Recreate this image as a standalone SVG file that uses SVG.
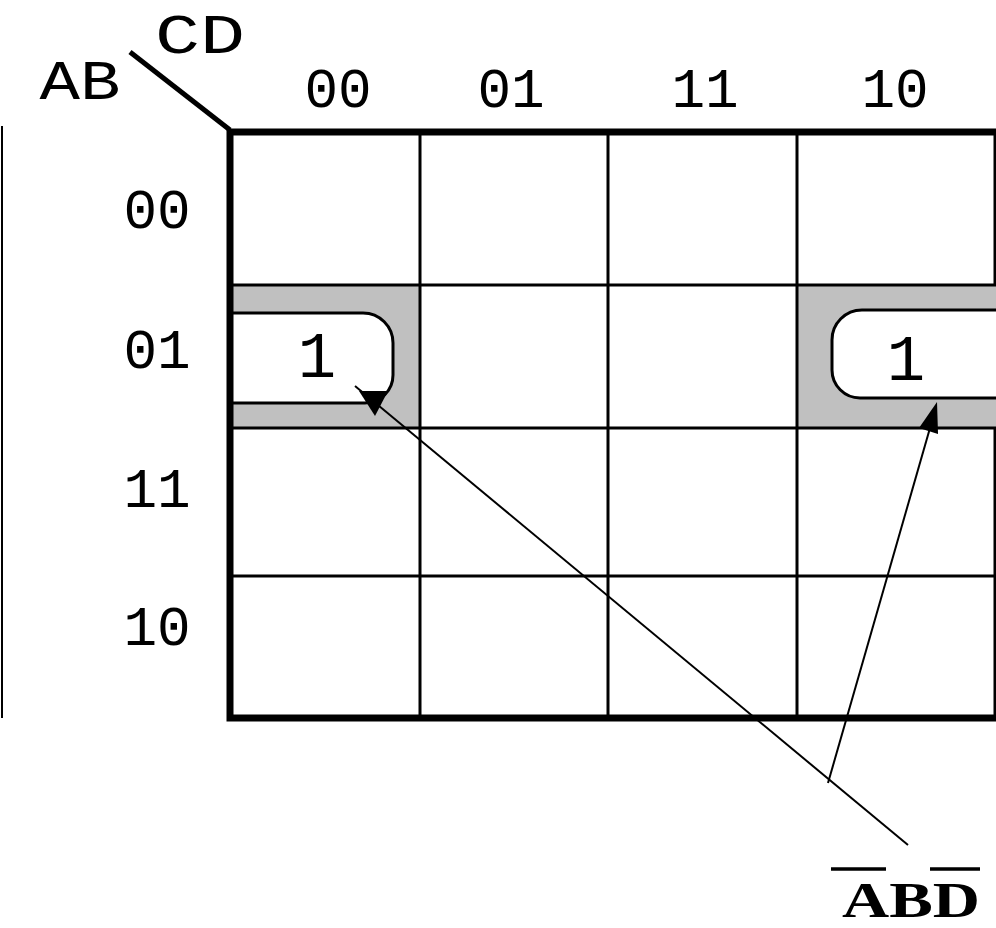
<svg xmlns="http://www.w3.org/2000/svg" width="996" height="928" viewBox="0 0 996 928">
<style>
.lbl{font-family:"Liberation Mono","Courier New",monospace;font-size:56px;fill:#000;text-anchor:middle}
.one{font-family:"Liberation Mono","Courier New",monospace;font-size:64px;fill:#000;text-anchor:middle}
.thin{stroke:#000;stroke-width:3;fill:none}
.thick{stroke:#000;stroke-width:7;fill:none}
.shade{fill:#c0c0c0}
.loop{fill:#fff;stroke:#000;stroke-width:3}
.ptr{stroke:#000;stroke-width:2;fill:none}
</style>
<rect width="996" height="928" fill="#fff"/>
<g id="shading">
<rect class="shade" x="232" y="285" width="188" height="143"/>
<rect class="shade" x="797" y="285" width="199" height="143"/>
</g>
<g id="group-left">
<path class="loop" d="M232 313 H363 A30 30 0 0 1 393 343 V375 A28 28 0 0 1 365 403 H232"/>
<text class="one" x="317" y="377">1</text>
</g>
<g id="group-right">
<path class="loop" d="M998 310 H862 A30 30 0 0 0 832 340 V370 A28 28 0 0 0 860 398 H998"/>
<text class="one" x="906" y="380">1</text>
</g>
<g id="grid">
<line class="thin" x1="420" y1="132" x2="420" y2="718"/>
<line class="thin" x1="608" y1="132" x2="608" y2="718"/>
<line class="thin" x1="797" y1="132" x2="797" y2="718"/>
<line class="thin" x1="230" y1="285" x2="996" y2="285"/>
<line class="thin" x1="230" y1="428" x2="996" y2="428"/>
<line class="thin" x1="230" y1="576" x2="996" y2="576"/>
<line class="thin" x1="995" y1="132" x2="995" y2="285"/>
<line class="thin" x1="995" y1="428" x2="995" y2="718"/>
<path class="thick" d="M996 132 H230 V718 H996"/>
<line x1="2" y1="126" x2="2" y2="718" stroke="#000" stroke-width="2"/>
</g>
<g id="corner">
<line x1="130" y1="52" x2="230" y2="130" stroke="#000" stroke-width="5"/>
<text class="lbl" x="80" y="99" textLength="81" lengthAdjust="spacingAndGlyphs">AB</text>
<text class="lbl" x="200" y="53" textLength="90" lengthAdjust="spacingAndGlyphs">CD</text>
</g>
<g id="col-labels">
<text class="lbl" x="338" y="107">00</text>
<text class="lbl" x="511" y="107">01</text>
<text class="lbl" x="705" y="107">11</text>
<text class="lbl" x="895" y="107">10</text>
</g>
<g id="row-labels">
<text class="lbl" x="157" y="228">00</text>
<text class="lbl" x="157" y="368">01</text>
<text class="lbl" x="157" y="507">11</text>
<text class="lbl" x="157" y="645">10</text>
</g>
<g id="connectors">
<line class="ptr" x1="908" y1="845" x2="355" y2="386"/>
<polygon points="359,391 388,391 375,416" fill="#000"/>
<line class="ptr" x1="828" y1="783" x2="930" y2="428"/>
<polygon points="937,402 938,434 919,428" fill="#000"/>
</g>
<g id="expr">
<text x="911" y="917" text-anchor="middle" font-family="'Liberation Serif','Times New Roman',serif" font-weight="bold" font-size="50" textLength="138" lengthAdjust="spacingAndGlyphs">ABD</text>
<line x1="831" y1="869" x2="886" y2="869" stroke="#000" stroke-width="3.5"/>
<line x1="930" y1="869" x2="980" y2="869" stroke="#000" stroke-width="3.5"/>
</g>
</svg>
